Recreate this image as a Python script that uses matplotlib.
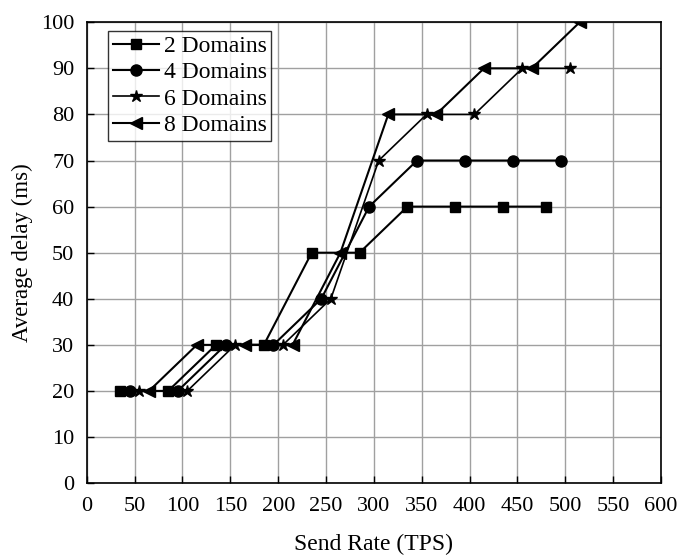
import matplotlib.pyplot as plt

# send rate (TPS) and average delay (ms) for each domain count
x_2 = [35, 85, 135, 185, 235, 285, 335, 385, 435, 480]
y_2 = [20, 20, 30, 30, 50, 50, 60, 60, 60, 60]

x_4 = [45, 95, 145, 195, 245, 295, 345, 395, 445, 495]
y_4 = [20, 20, 30, 30, 40, 60, 70, 70, 70, 70]

x_6 = [55, 105, 155, 205, 255, 305, 355, 405, 455, 505]
y_6 = [20, 20, 30, 30, 40, 70, 80, 80, 90, 90]

x_8 = [65, 115, 165, 215, 265, 315, 365, 415, 465, 515]
y_8 = [20, 30, 30, 30, 50, 80, 80, 90, 90, 100]

plt.rcParams['font.family'] = ['Liberation Serif', 'DejaVu Serif']

fig = plt.figure(figsize=(6.78, 5.56), dpi=100)
ax = fig.add_axes([0.128, 0.131, 0.847, 0.829])

ax.plot(x_2, y_2, color='black', lw=1.5, marker='s', ms=7, label='2 Domains')
ax.plot(x_4, y_4, color='black', lw=1.5, marker='o', ms=8, label='4 Domains')
ax.plot(x_6, y_6, color='black', lw=1.2, marker='*', ms=9, label='6 Domains')
ax.plot(x_8, y_8, color='black', lw=1.5, marker='<', ms=8, label='8 Domains')

ax.set_xlim(0, 600)
ax.set_ylim(0, 100)
ax.set_xticks(range(0, 601, 50))
ax.set_yticks(range(0, 101, 10))
ax.grid(True, color='#a0a0a0', lw=1)
ax.set_axisbelow(True)
ax.tick_params(direction='in', labelsize=16, length=5, width=1)
ax.tick_params(axis='x', pad=10)
ax.tick_params(axis='y', pad=9)
for s in ax.spines.values():
    s.set_linewidth(1.2)

ax.set_xlabel('Send Rate (TPS)', fontsize=17, labelpad=13)
ax.set_ylabel('Average delay (ms)', fontsize=16.5, labelpad=6)

leg = ax.legend(loc='upper left', bbox_to_anchor=(0.037, 0.981), fontsize=17,
                frameon=True, fancybox=False, edgecolor='black',
                handlelength=1.95, handletextpad=0.2, labelspacing=0.2,
                borderpad=0.2, borderaxespad=0)
leg.get_frame().set_linewidth(1.0)

fig.savefig('out.png', dpi=100)
